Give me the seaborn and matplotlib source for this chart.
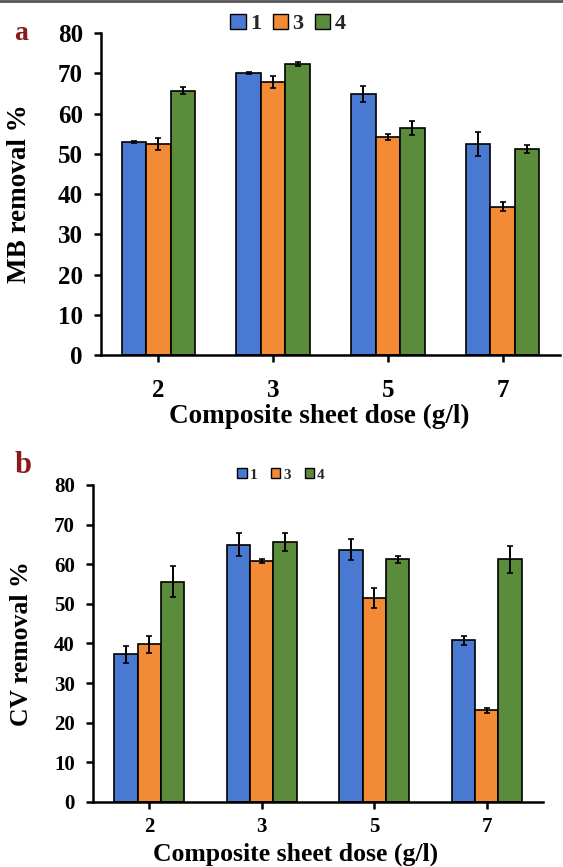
import numpy as np
import pandas as pd
import matplotlib
matplotlib.use("Agg")
import matplotlib.pyplot as plt
import seaborn as sns
from matplotlib.patches import Patch
from matplotlib.lines import Line2D

doses = ["2", "3", "5", "7"]
series = ["1", "3", "4"]

mb_s1 = [53.0, 70.0, 64.8, 52.4]
mb_s3 = [52.4, 67.8, 54.1, 36.9]
mb_s4 = [65.7, 72.3, 56.4, 51.1]
mb_e1 = [0.2, 0.2, 2.0, 3.0]
mb_e3 = [1.4, 1.5, 0.7, 1.0]
mb_e4 = [0.8, 0.4, 1.8, 1.0]

cv_s1 = [37.3, 64.9, 63.7, 40.8]
cv_s3 = [39.8, 60.9, 51.5, 23.1]
cv_s4 = [55.6, 65.6, 61.2, 61.2]
cv_e1 = [2.1, 2.9, 2.7, 1.2]
cv_e3 = [2.2, 0.5, 2.5, 0.7]
cv_e4 = [3.9, 2.3, 0.8, 3.4]

yticks = [0, 10, 20, 30, 40, 50, 60, 70, 80]
colors = ["#4a79d1", "#f28a36", "#5a8c3b"]

sns.set_theme(style="ticks")
plt.rcParams["font.family"] = ["Liberation Serif", "DejaVu Serif"]
plt.rcParams["font.weight"] = "bold"


def make_df(s1, s3, s4):
    rows = []
    for sname, vals in zip(series, [s1, s3, s4]):
        for d, v in zip(doses, vals):
            rows.append({"dose": d, "series": sname, "value": v})
    return pd.DataFrame(rows)


def draw(ax, df, errs, width, ylabel, tick_fs, lab_fs, ylab_x, xlab_pos, xpad):
    sns.barplot(data=df, x="dose", y="value", hue="series", order=doses,
                hue_order=series, palette=colors, errorbar=None, width=width,
                gap=0, edgecolor="black", linewidth=1.2, saturation=1,
                legend=False, ax=ax)
    for cont, err in zip(ax.containers, errs):
        xs = [p.get_x() + p.get_width() / 2 for p in cont.patches]
        ys = [p.get_height() for p in cont.patches]
        ax.errorbar(xs, ys, yerr=err, fmt="none", ecolor="black",
                    elinewidth=1.4, capsize=2.5, capthick=1.2, zorder=5)
    ax.set_ylim(0, 80)
    ax.set_yticks(yticks)
    ax.set_xlim(-0.5, 3.5)
    sns.despine(ax=ax)
    for sp in ["left", "bottom"]:
        ax.spines[sp].set_linewidth(1.8)
        ax.spines[sp].set_color("black")
    ax.tick_params(axis="y", length=5, width=1.8, pad=8, labelsize=tick_fs,
                   colors="black")
    ax.tick_params(axis="x", length=5, width=1.8, pad=xpad, labelsize=tick_fs,
                   colors="black")
    for t in ax.get_xticklabels() + ax.get_yticklabels():
        t.set_fontweight("bold")
    ax.set_ylabel(ylabel, fontsize=lab_fs, fontweight="bold", color="black")
    ax.set_xlabel("Composite sheet dose (g/l)", fontsize=lab_fs,
                  fontweight="bold", color="black")
    ax.yaxis.set_label_coords(ylab_x, 0.5)
    ax.xaxis.set_label_coords(*xlab_pos)
    ax.set_facecolor("white")


fig = plt.figure(figsize=(5.63, 8.67), dpi=100)
ax1 = fig.add_axes([0.1794, 0.5905, 0.8153, 0.3714])
ax2 = fig.add_axes([0.1652, 0.075, 0.7993, 0.3656])

draw(ax1, make_df(mb_s1, mb_s3, mb_s4), [mb_e1, mb_e3, mb_e4], 0.64,
     "MB removal %", 18, 19.5, -0.150, (0.475, -0.152), 12)
draw(ax2, make_df(cv_s1, cv_s3, cv_s4), [cv_e1, cv_e3, cv_e4], 0.62,
     "CV removal %", 15, 18.5, -0.133, (0.451, -0.128), 6)

handles = [Patch(facecolor=c, edgecolor="black", linewidth=1.0) for c in colors]
fig.legend(handles, series, loc="center", bbox_to_anchor=(288 / 563, 1 - 24 / 867),
           ncol=3, frameon=False, prop={"weight": "bold", "size": 16},
           handlelength=0.7, handleheight=0.7, handletextpad=0.2,
           columnspacing=0.5)
fig.legend(handles, series, loc="center", bbox_to_anchor=(281 / 563, 1 - 475 / 867),
           ncol=3, frameon=False, prop={"weight": "bold", "size": 11},
           handlelength=0.6, handleheight=0.6, handletextpad=0.2,
           columnspacing=0.9)

fig.text(21 / 563, 1 - 33 / 867, "a", color="#8b1a1a", fontsize=20,
         fontweight="bold", ha="center", va="center")
fig.text(23 / 563, 1 - 466 / 867, "b", color="#8b1a1a", fontsize=22,
         fontweight="bold", ha="center", va="center")
fig.add_artist(Line2D([0, 1], [0.999, 0.999], color="#555555", linewidth=2,
                      transform=fig.transFigure))

fig.savefig("out.png", dpi=100, facecolor="white")
